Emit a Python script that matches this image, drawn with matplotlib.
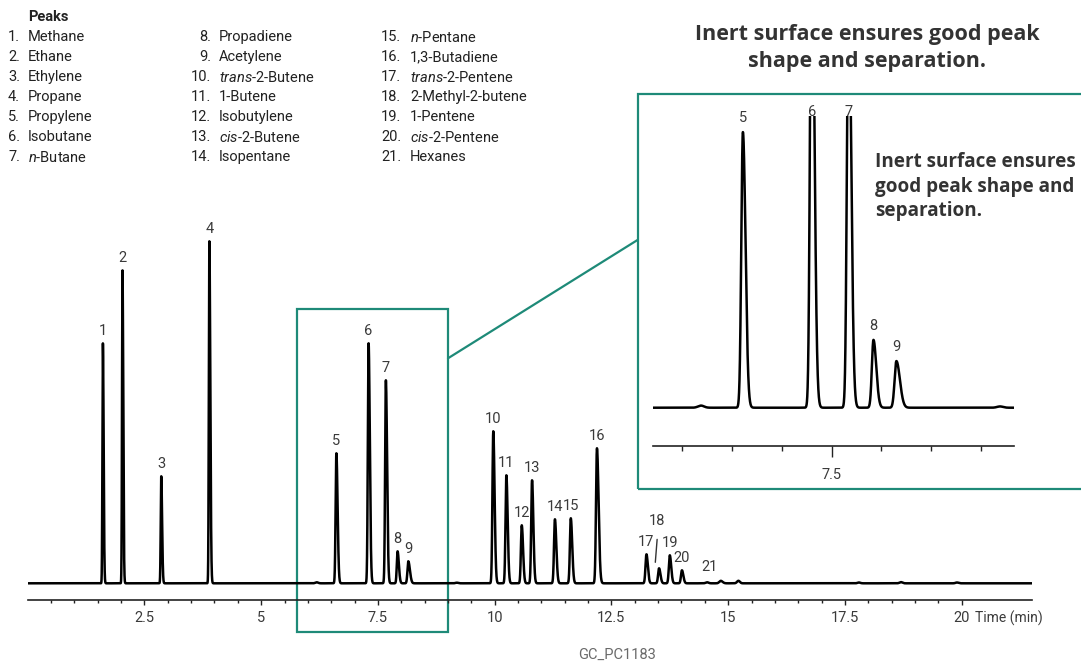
import numpy as np
import matplotlib
matplotlib.use("Agg")
import matplotlib.pyplot as plt
from matplotlib.patches import Rectangle, ConnectionPatch
from matplotlib.ticker import FixedLocator

# ---------------- data ----------------
peak_ids = list(range(1, 22))
compounds = ["Methane", "Ethane", "Ethylene", "Propane", "Propylene", "Isobutane",
             r"$\mathit{n}$-Butane", "Propadiene", "Acetylene",
             r"$\mathit{trans}$-2-Butene", "1-Butene", "Isobutylene",
             r"$\mathit{cis}$-2-Butene", "Isopentane", r"$\mathit{n}$-Pentane",
             "1,3-Butadiene", r"$\mathit{trans}$-2-Pentene", "2-Methyl-2-butene",
             "1-Pentene", r"$\mathit{cis}$-2-Pentene", "Hexanes"]
retention_min = [1.61, 2.03, 2.86, 3.89, 6.61, 7.30, 7.67, 7.92, 8.15, 9.97,
                 10.25, 10.58, 10.80, 11.29, 11.63, 12.19, 13.25, 13.52, 13.75,
                 14.01, 14.84]
response = [240, 313, 107, 342, 130, 240, 203, 32, 22, 152, 108, 58, 103, 64,
            65, 135, 29, 15, 28, 13, 2.5]
sigma_lead = [0.010, 0.010, 0.011, 0.011, 0.016, 0.016, 0.016, 0.016, 0.018,
              0.018, 0.018, 0.018, 0.018, 0.019, 0.019, 0.020, 0.020, 0.020,
              0.020, 0.020, 0.030]
sigma_tail = [0.016, 0.016, 0.018, 0.020, 0.026, 0.026, 0.026, 0.028, 0.035,
              0.028, 0.028, 0.028, 0.028, 0.030, 0.030, 0.035, 0.030, 0.030,
              0.030, 0.030, 0.040]
minor_rt = [6.19, 9.19, 14.55, 15.22, 17.80, 18.70, 19.90]
minor_resp = [1.0, 0.6, 1.0, 2.5, 0.8, 1.2, 0.8]

time_ticks = [2.5, 5, 7.5, 10, 12.5, 15, 17.5, 20]
inset_label_tick = [7.5]
figure_code = "GC_PC1183"
headline = "Inert surface ensures good peak\nshape and separation."
inset_note = "Inert surface ensures\ngood peak shape and\nseparation."
inset_peaks = [5, 6, 7, 8, 9]

# ---------------- style ----------------
W, H = 1081, 664
TEAL = "#1e8a78"
TXT = "#3a3a3a"
plt.rcParams["font.family"] = ["Roboto", "DejaVu Sans"]
plt.rcParams["mathtext.fontset"] = "custom"
plt.rcParams["mathtext.rm"] = "Roboto"
plt.rcParams["mathtext.it"] = "Roboto:italic"
FS = 10.5


def signal(t):
    y = np.zeros_like(t)
    for rt, h, sl, st in zip(retention_min, response, sigma_lead, sigma_tail):
        s = np.where(t < rt, sl, st)
        y += h * np.exp(-0.5 * ((t - rt) / s) ** 2)
    for rt, h in zip(minor_rt, minor_resp):
        y += h * np.exp(-0.5 * ((t - rt) / 0.03) ** 2)
    return y


fig = plt.figure(figsize=(W / 100, H / 100), dpi=100)


def fx(px):
    return px / W


def fy(py):
    return (H - py) / H


# ---------------- main chromatogram ----------------
ax = fig.add_axes([fx(27.7), fy(600), fx(1031.7 - 27.7), 380 / H])
t = np.linspace(0, 21.5, 30000)
ax.plot(t, signal(t), color="black", lw=1.8, solid_joinstyle="round")
ax.set_xlim(0, 21.5)
ax.set_ylim(-16.7, 363.3)
for s in ("left", "right", "top"):
    ax.spines[s].set_visible(False)
ax.spines["bottom"].set_linewidth(1.2)
ax.spines["bottom"].set_color("#222222")
ax.set_yticks([])
ax.xaxis.set_major_locator(FixedLocator(time_ticks))
ax.xaxis.set_minor_locator(FixedLocator(np.arange(0.5, 20.01, 0.5)))
ax.set_xticklabels([f"{v:g}" for v in time_ticks])
ax.tick_params(axis="x", which="major", length=3.8, width=1.0, color="#222222",
               labelsize=FS, labelcolor=TXT, pad=4)
ax.tick_params(axis="x", which="minor", length=2.4, width=1.0, color="#222222")

special = {18, 21}
for pid, rt, h in zip(peak_ids, retention_min, response):
    if pid in special:
        continue
    ax.text(rt, h + 12, str(pid), ha="center", va="center", fontsize=FS,
            color=TXT, clip_on=False)
# peak 18 with leader line
rt18, h18 = retention_min[17], response[17]
ax.annotate("18", xy=(rt18 - 0.08, h18 + 6), xytext=(rt18 - 0.04, h18 + 47),
            ha="center", va="center", fontsize=FS, color=TXT,
            arrowprops=dict(arrowstyle="-", lw=1.0, color="#333333",
                            shrinkA=6, shrinkB=0, relpos=(0.55, 0)))
rt21, h21 = retention_min[20], response[20]
ax.text(rt21 - 0.24, h21 + 13.5, "21", ha="center", va="center", fontsize=FS,
        color=TXT)

fig.text(fx(975), fy(618), "Time (min)", ha="left", va="center", fontsize=10,
         color=TXT)

# zoom box on main chart
zx0, zx1 = 5.77, 9.0
ax.add_patch(Rectangle((zx0, -48.4), zx1 - zx0, 274 + 48.4, fill=False,
                       ec=TEAL, lw=1.6, clip_on=False))

# ---------------- inset ----------------
axi = fig.add_axes([fx(652.7), fy(445.7), fx(1014 - 652.7), (445.7 - 116) / H])
ti = np.linspace(5.705, 9.33, 8000)
axi.plot(ti, signal(ti), color="black", lw=1.8)
axi.set_xlim(5.705, 9.33)
axi.set_ylim(-17.92, 137.6)
for s in ("left", "right", "top"):
    axi.spines[s].set_visible(False)
axi.spines["bottom"].set_linewidth(1.2)
axi.spines["bottom"].set_color("#222222")
axi.set_yticks([])
axi.xaxis.set_major_locator(FixedLocator(inset_label_tick))
axi.xaxis.set_minor_locator(FixedLocator([6, 6.5, 7, 8, 8.5, 9]))
axi.set_xticklabels([f"{v:g}" for v in inset_label_tick])
axi.tick_params(axis="x", which="major", length=8, width=1.0, color="#222222",
                labelsize=FS, labelcolor=TXT, pad=8)
axi.tick_params(axis="x", which="minor", length=3.6, width=1.0, color="#222222")
ytop = axi.get_ylim()[1]
for pid in inset_peaks:
    rt, h = retention_min[pid - 1], response[pid - 1]
    if h > ytop:
        axi.annotate(str(pid), xy=(rt, ytop), xytext=(0, 2.7),
                     textcoords="offset points", ha="center", va="center",
                     fontsize=FS, color=TXT, annotation_clip=False)
    else:
        axi.annotate(str(pid), xy=(rt, h), xytext=(0, 10),
                     textcoords="offset points", ha="center", va="center",
                     fontsize=FS, color=TXT, annotation_clip=False)

fig.add_artist(Rectangle((fx(637.5), fy(488.5)), fx(1100 - 637.5),
                         (488.5 - 94) / H, transform=fig.transFigure,
                         fill=False, ec=TEAL, lw=1.6))
con = ConnectionPatch(xyA=(zx1, 225), coordsA=ax.transData,
                      xyB=(fx(637.5), fy(240)), coordsB=fig.transFigure,
                      color=TEAL, lw=1.6)
fig.add_artist(con)

fig.text(fx(875), fy(187), inset_note, ha="left", va="center", fontsize=13.6,
         fontweight="bold", color="#333333", family=["Open Sans", "DejaVu Sans"],
         linespacing=1.3)
fig.text(fx(867), fy(48), headline, ha="center", va="center", fontsize=15.5,
         fontweight="bold", color="#333333", family=["Open Sans", "DejaVu Sans"],
         linespacing=1.42)

# ---------------- peak legend ----------------
fig.text(fx(28), fy(17), "Peaks", ha="left", va="center", fontsize=FS,
         fontweight="bold", color="#222222")
num_x = [20, 211, 401]
name_x = [28, 219, 410]
for i, (pid, name) in enumerate(zip(peak_ids, compounds)):
    col, row = divmod(i, 7)
    yy = fy(37 + 20 * row)
    fig.text(fx(num_x[col]), yy, f"{pid}.", ha="right", va="center",
             fontsize=FS, color="#222222")
    fig.text(fx(name_x[col]), yy, name, ha="left", va="center",
             fontsize=FS, color="#222222")

fig.text(fx(617), fy(655), figure_code, ha="center", va="center", fontsize=FS,
         color="#6a6a6a")

fig.savefig("out.png", dpi=100)
